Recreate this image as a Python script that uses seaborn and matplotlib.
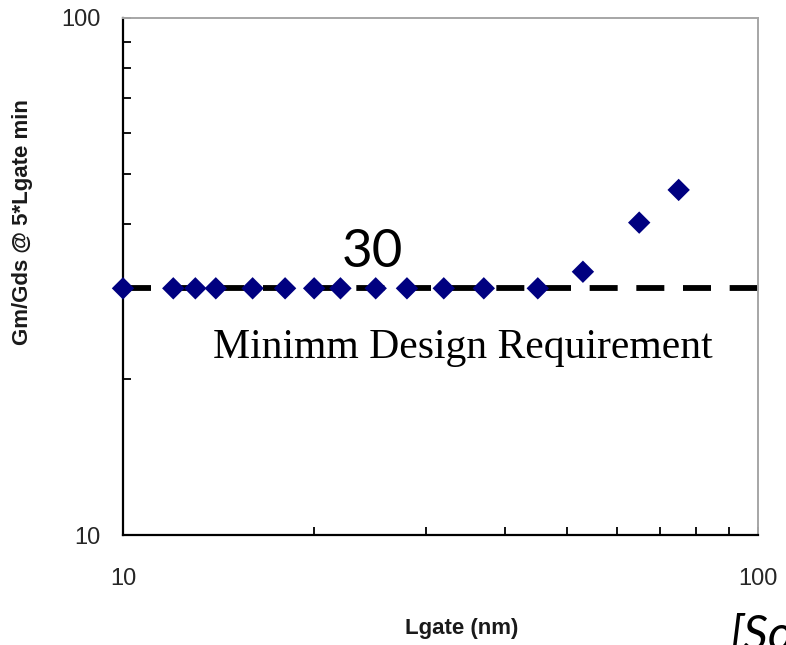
import matplotlib
matplotlib.use("Agg")
import matplotlib.pyplot as plt
import seaborn as sns
import pandas as pd
from matplotlib.ticker import LogLocator, NullFormatter, FixedLocator, FixedFormatter

# Data
lgate_nm = [10, 12, 13, 14, 16, 18, 20, 22, 25, 28, 32, 37, 45, 53, 65, 75]
gm_gds = [30, 30, 30, 30, 30, 30, 30, 30, 30, 30, 30, 30, 30, 32.3, 40.2, 46.5]
requirement = 30
x_ticks = [10, 100]
y_ticks = [10, 100]
x_tick_labels = ["10", "100"]
y_tick_labels = ["10", "100"]

df = pd.DataFrame({"Lgate": lgate_nm, "GmGds": gm_gds})
req_df = pd.DataFrame({"x": [10, 100], "y": [requirement, requirement]})

sns.set_style("white")
plt.rcParams["font.family"] = ["Liberation Sans", "DejaVu Sans"]

fig = plt.figure(figsize=(7.86, 6.45), dpi=100)
ax = fig.add_axes([123 / 786, 1 - 535 / 645, (758 - 123) / 786, (535 - 18) / 645])
ax.set_xscale("log")
ax.set_yscale("log")
ax.set_xlim(10, 100)
ax.set_ylim(10, 100)

sns.lineplot(data=req_df, x="x", y="y", ax=ax, color="black", lw=4.2, zorder=2)
ax.lines[0].set_dashes([4.8, 3.2])
ax.lines[0].set_clip_on(False)

sns.scatterplot(data=df, x="Lgate", y="GmGds", ax=ax, marker="D", s=130,
                color="#000080", edgecolor="none", zorder=3, clip_on=False)

ax.xaxis.set_major_locator(FixedLocator(x_ticks))
ax.xaxis.set_major_formatter(FixedFormatter(x_tick_labels))
ax.yaxis.set_major_locator(FixedLocator(y_ticks))
ax.yaxis.set_major_formatter(FixedFormatter(y_tick_labels))
ax.xaxis.set_minor_locator(LogLocator(base=10, subs=range(2, 10)))
ax.yaxis.set_minor_locator(LogLocator(base=10, subs=range(2, 10)))
ax.xaxis.set_minor_formatter(NullFormatter())
ax.yaxis.set_minor_formatter(NullFormatter())

ax.tick_params(axis="both", which="both", direction="in", length=6, width=1.3,
               color="black", bottom=True, left=True, top=False, right=False,
               labelcolor="#262626", labelsize=17)
ax.tick_params(axis="x", which="major", pad=24)
ax.tick_params(axis="y", which="major", pad=16)

for side in ["left", "bottom"]:
    ax.spines[side].set_color("black")
    ax.spines[side].set_linewidth(1.6)
for side in ["top", "right"]:
    ax.spines[side].set_color("#a6a6a6")
    ax.spines[side].set_linewidth(1.4)

ax.set_xlabel("Lgate (nm)", fontsize=16, fontweight="bold", color="#1a1a1a")
ax.set_ylabel("Gm/Gds @ 5*Lgate min", fontsize=16, fontweight="bold", color="#1a1a1a")
ax.xaxis.set_label_coords((462 - 123) / 635, (535 - 618) / 517)
ax.yaxis.set_label_coords((33 - 123) / 635, (535 - 222) / 517)

ax.text((372 - 123) / 635, (535 - 267) / 517, "30", transform=ax.transAxes,
        fontsize=38, family="Lato", ha="center", va="baseline", color="black")
ax.text((463 - 123) / 635, (535 - 358) / 517, "Minimm Design Requirement",
        transform=ax.transAxes, fontsize=30, family="Liberation Serif",
        ha="center", va="baseline", color="black")

fig.text(729 / 786, 1 - 650 / 645, "[So", fontsize=35, family="Lato",
         style="italic", ha="left", va="baseline", color="black")

fig.savefig("out.png", dpi=100, facecolor="white")
